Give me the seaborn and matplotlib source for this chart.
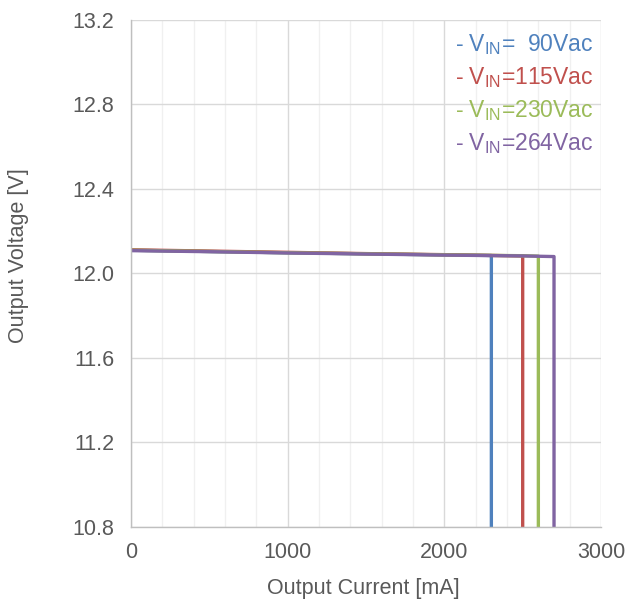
import matplotlib
matplotlib.use("Agg")
import matplotlib.pyplot as plt
import seaborn as sns
import pandas as pd
from matplotlib.ticker import MultipleLocator

# Data
series_names = ["V$_{\\mathregular{IN}}$=  90Vac", "V$_{\\mathregular{IN}}$=115Vac",
                "V$_{\\mathregular{IN}}$=230Vac", "V$_{\\mathregular{IN}}$=264Vac"]
current_90 = [0, 500, 1000, 1500, 2000, 2300, 2300]
voltage_90 = [12.11, 12.104, 12.098, 12.093, 12.088, 12.085, 10.8]
current_115 = [0, 500, 1000, 1500, 2000, 2500, 2500]
voltage_115 = [12.112, 12.106, 12.100, 12.094, 12.089, 12.083, 10.8]
current_230 = [0, 500, 1000, 1500, 2000, 2500, 2600, 2600]
voltage_230 = [12.11, 12.104, 12.098, 12.093, 12.088, 12.084, 12.082, 10.8]
current_264 = [0, 500, 1000, 1500, 2000, 2500, 2700, 2700]
voltage_264 = [12.108, 12.103, 12.097, 12.092, 12.087, 12.083, 12.08, 10.8]
y_ticks = [10.8, 11.2, 11.6, 12.0, 12.4, 12.8, 13.2]
y_tick_labels = ["10.8", "11.2", "11.6", "12.0", "12.4", "12.8", "13.2"]
colors = ["#4F81BD", "#C0504D", "#9BBB59", "#8064A2"]

frames = []
for name, c, v in zip(series_names,
                      [current_90, current_115, current_230, current_264],
                      [voltage_90, voltage_115, voltage_230, voltage_264]):
    frames.append(pd.DataFrame({"Current": c, "Voltage": v, "Series": name}))
df = pd.concat(frames, ignore_index=True)

sns.set_theme(style="white")
plt.rcParams['font.family'] = ['Liberation Sans', 'DejaVu Sans']
plt.rcParams['mathtext.fontset'] = 'custom'
plt.rcParams['mathtext.rm'] = 'Liberation Sans'

fig = plt.figure(figsize=(6.3, 6.05), dpi=100)
ax = fig.add_axes([0.208, 0.129, 0.746, 0.838])

for name, col in zip(series_names, colors):
    sub = df[df["Series"] == name]
    sns.lineplot(data=sub, x="Current", y="Voltage", sort=False, ax=ax,
                 color=col, linewidth=2.4, estimator=None, legend=False)

ax.set_xlim(0, 3000)
ax.set_ylim(10.8, 13.2)
ax.xaxis.set_major_locator(MultipleLocator(1000))
ax.xaxis.set_minor_locator(MultipleLocator(200))
ax.set_yticks(y_ticks)
ax.set_yticklabels(y_tick_labels)
ax.grid(which="major", axis="both", color="#d9d9d9", linewidth=1.0)
ax.grid(which="minor", axis="x", color="#f0f0f0", linewidth=1.0)
ax.set_axisbelow(True)

for s in ["top", "right"]:
    ax.spines[s].set_visible(False)
for s in ["left", "bottom"]:
    ax.spines[s].set_color("#bfbfbf")
    ax.spines[s].set_linewidth(1.0)

ax.tick_params(axis="y", which="both", length=0, labelsize=15.5, colors="#595959", pad=12)
ax.tick_params(axis="x", which="both", length=0, labelsize=15.5, colors="#595959", pad=11)
ax.set_xlabel("Output Current [mA]", fontsize=15.5, color="#595959")
ax.set_ylabel("Output Voltage [V]", fontsize=15.5, color="#595959")
ax.xaxis.set_label_coords(0.494, -0.1)
ax.yaxis.set_label_coords(-0.218, 0.535)

for i, (name, col) in enumerate(zip(series_names, colors)):
    ax.text(0.689, 0.952 - i * 0.065, "- " + name, transform=ax.transAxes,
            color=col, fontsize=16.5, va="center", ha="left")

fig.savefig("out.png", dpi=100, facecolor="white")
